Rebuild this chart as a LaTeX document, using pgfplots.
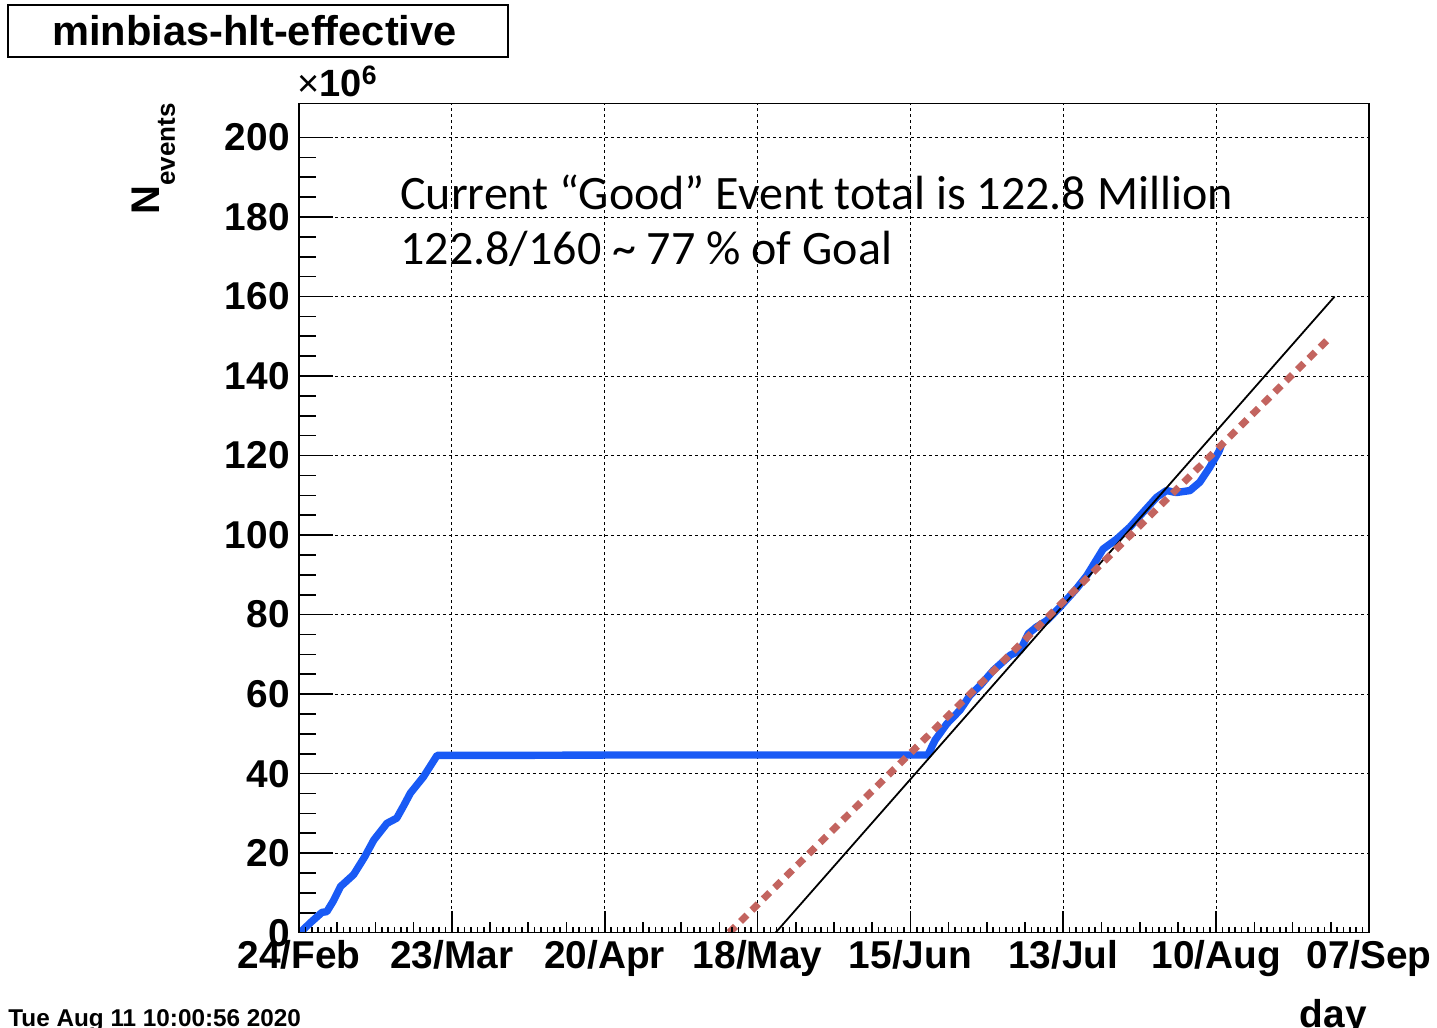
\documentclass[border=0pt]{standalone}
\usepackage{fontspec}
\setmainfont{Liberation Sans}
\newfontfamily\calibri{Carlito}
\usepackage{pgfplots}
\pgfplotsset{compat=1.18}
\definecolor{blueC}{RGB}{25,90,245}
\definecolor{redC}{RGB}{195,100,95}
\pgfplotsset{overlay axis/.style={at={(0pt,0pt)}, anchor=south west, scale only axis,
 width=535pt, height=414.5pt, xmin=0, xmax=196, ymin=0, ymax=208.5,
 hide y axis, axis line style={line width=0.8pt}, xticklabels={},
 xtick pos=bottom, tick align=inside, tick style={line width=0.8pt, black}}}
\begin{document}
\begin{tikzpicture}
\path[use as bounding box] (-149.5pt,-47.65pt) rectangle (569pt,466.35pt);
\begin{axis}[at={(0pt,0pt)}, anchor=south west, scale only axis,
 width=535pt, height=414.5pt,
 xmin=0, xmax=196, ymin=0, ymax=208.5,
 axis line style={line width=0.8pt},
 xtick={0,28,...,196},
 xticklabels={24/Feb,23/Mar,20/Apr,18/May,15/Jun,13/Jul,10/Aug,07/Sep},
 ytick={0,20,...,200}, minor y tick num=3,
 major tick length=17pt, minor tick length=8.5pt,
 ytick pos=left, xtick pos=bottom,
 tick style={line width=0.8pt, black},
 every major x tick/.append style={draw=none},
 grid=major,
 major grid style={black, line width=0.5pt, dash pattern=on 1.5pt off 1.5pt},
 ticklabel style={font=\fontsize{19.4}{23}\selectfont\bfseries, inner sep=0pt},
 /pgf/number format/assume math mode=true,
 xticklabel style={yshift=-3.5pt},
 yticklabel style={xshift=-4.5pt},
 scaled y ticks=false,
]
\addplot[blueC, line width=3.7pt, line join=round] coordinates {
(0.2,0) (2.0,2.4) (4.2,5.1) (5.1,5.3) (6.3,8.0) (7.6,11.6) (10.0,14.6) (12.0,19.0)
(13.7,23.3) (16.1,27.5) (17.9,28.8) (19.2,32.0) (20.4,35.1) (22.8,39.2) (25.3,44.6)
(40,44.6) (60,44.7) (80,44.7) (100,44.7) (115.2,44.7)
(116.5,48.4) (118.7,52.6) (121.1,56) (122.9,59.7) (124.8,62.2) (127.2,66)
(130.3,69.8) (132.1,71) (133.6,75.2) (135.1,76.9) (137.0,78.5) (139.4,81.9)
(142.4,86.5) (144.3,89.8) (147.3,96.5) (149.8,99) (152.2,102) (154.6,105.7)
(157.1,109.5) (158.9,111.2) (160.7,110.7) (163.2,111.2) (165.0,113.3)
(166.8,117) (168.5,121) (169.0,122.8)};
\addplot[black, line width=0.9pt] coordinates {(87.3,0) (189.7,160)};
\addplot[redC, line width=3.5pt, dash pattern=on 4.5pt off 3.5pt] coordinates {(78.8,0) (188.4,149.1)};
\end{axis}
\begin{axis}[overlay axis,
 xtick={0,28,...,196}, major tick length=11pt,
 minor x tick num=23, minor tick length=2.75pt]
\end{axis}
\begin{axis}[overlay axis,
 xtick={7,14,...,189}, major tick length=5.5pt]
\end{axis}
\node[draw, line width=1pt, minimum width=250pt, minimum height=26pt, inner sep=0pt] at (-20.5pt,450.85pt) {};
\node[anchor=base, inner sep=0pt, font=\fontsize{20.8}{24}\selectfont\bfseries] at (-22.25pt,443.35pt) {minbias-hlt-effective};
\node[anchor=base west, inner sep=0pt, font=\fontsize{19}{22}\selectfont\bfseries] at (-1pt,417.85pt) {{\mdseries ×}10\textsuperscript{6}};
\node[rotate=90, anchor=base east, inner sep=0pt, font=\fontsize{20}{24}\selectfont\bfseries] at (-69.5pt,414.85pt) {N{\fontsize{13}{15}\selectfont\raisebox{-7.5pt}{events}}};
\node[anchor=base west, inner sep=0pt, font=\calibri\fontsize{24}{28}\selectfont] at (50.5pt,361.35pt) {Current “Good” Event total is 122.8 Million};
\node[anchor=base west, inner sep=0pt, font=\calibri\fontsize{24}{28}\selectfont] at (50.5pt,333.85pt) {122.8/160 \textasciitilde{} 77 \% of Goal};
\node[anchor=base east, inner sep=0pt, font=\fontsize{19.4}{23}\selectfont\bfseries] at (534pt,-47.4pt) {day};
\node[anchor=base west, inner sep=0pt, font=\fontsize{12.15}{14}\selectfont\bfseries] at (-145.5pt,-46.9pt) {Tue Aug 11 10:00:56 2020};
\end{tikzpicture}
\end{document}
